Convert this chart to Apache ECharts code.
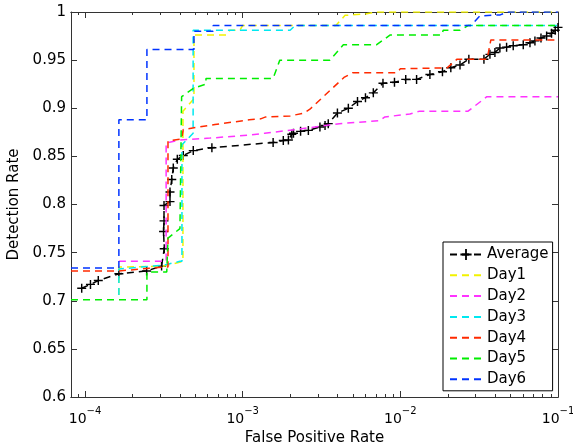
<!DOCTYPE html>
<html>
<head>
<meta charset="utf-8">
<script src="https://cdn.jsdelivr.net/npm/echarts@6/dist/echarts.min.js"></script>
<style>
  html, body { margin: 0; background: #fff; }
  #chart { width: 573px; height: 446px; }
</style>
</head>
<body>
<div id="chart"></div>
<script>
// ROC curves, x = false positive rate (log), y = detection rate
const seriesNames = ['Average', 'Day1', 'Day2', 'Day3', 'Day4', 'Day5', 'Day6'];
const seriesColors = ['#000000', '#f2f200', '#ff33ff', '#00e8f0', '#ff2a00', '#00ee00', '#0033ff'];

const xTicks = [1e-4, 1e-3, 1e-2, 1e-1];
const yTicks = [0.6, 0.65, 0.7, 0.75, 0.8, 0.85, 0.9, 0.95, 1];

const average = [
  [9.53e-5, 0.713], [1.083e-4, 0.717], [1.214e-4, 0.721], [1.64e-4, 0.728], [2.46e-4, 0.731],
  [3.06e-4, 0.736], [3.18e-4, 0.754], [3.15e-4, 0.772], [3.17e-4, 0.783], [3.17e-4, 0.799],
  [3.46e-4, 0.803], [3.46e-4, 0.813], [3.55e-4, 0.826], [3.63e-4, 0.838], [3.85e-4, 0.847],
  [4.2e-4, 0.851], [4.86e-4, 0.856], [6.38e-4, 0.859], [1.56e-3, 0.8645], [1.81e-3, 0.8665],
  [1.95e-3, 0.867], [2.05e-3, 0.873], [2.10e-3, 0.874], [2.33e-3, 0.876], [2.61e-3, 0.877],
  [3.09e-3, 0.8805], [3.33e-3, 0.882], [3.49e-3, 0.884], [3.99e-3, 0.895], [4.68e-3, 0.900],
  [5.35e-3, 0.907], [6.01e-3, 0.911], [6.74e-3, 0.916], [7.76e-3, 0.926], [9.18e-3, 0.927],
  [1.082e-2, 0.930], [1.268e-2, 0.930], [1.54e-2, 0.935], [1.85e-2, 0.938], [2.09e-2, 0.942],
  [2.39e-2, 0.945], [2.72e-2, 0.951], [3.39e-2, 0.951], [3.70e-2, 0.956], [3.98e-2, 0.958],
  [4.28e-2, 0.9625], [4.72e-2, 0.9635], [5.20e-2, 0.965], [6.02e-2, 0.966], [6.64e-2, 0.968],
  [7.14e-2, 0.970], [7.80e-2, 0.973], [8.47e-2, 0.975], [9.1e-2, 0.978], [9.6e-2, 0.981], [0.1, 0.984]
];
const day1 = [
  [1.64e-4, 0.706], [1.64e-4, 0.735], [3.17e-4, 0.736], [4.18e-4, 0.741], [4.18e-4, 0.897],
  [4.91e-4, 0.91], [4.91e-4, 0.976], [7.9e-4, 0.976], [8.3e-4, 0.981], [9.6e-4, 0.981],
  [1.0e-3, 0.986], [3.9e-3, 0.986], [4.46e-3, 0.9965], [5.97e-3, 0.998], [7.1e-3, 1.0], [0.1, 1.0]
];
const day2 = [
  [1.64e-4, 0.741], [3.27e-4, 0.741], [3.27e-4, 0.864], [4.0e-4, 0.867], [6.2e-4, 0.869],
  [1.1e-3, 0.872], [1.38e-3, 0.874], [2.2e-3, 0.878], [4.1e-3, 0.884], [7.4e-3, 0.887],
  [7.98e-3, 0.891], [1.15e-2, 0.894], [1.33e-2, 0.897], [2.69e-2, 0.897], [3.54e-2, 0.912], [0.1, 0.912]
];
const day3 = [
  [1.64e-4, 0.706], [1.64e-4, 0.733], [3.17e-4, 0.737], [4.0e-4, 0.741], [4.12e-4, 0.741],
  [4.12e-4, 0.862], [4.85e-4, 0.874], [4.85e-4, 0.981], [2.0e-3, 0.981], [2.15e-3, 0.986], [0.1, 0.986]
];
const day4 = [
  [8.15e-5, 0.731], [1.64e-4, 0.731], [3.17e-4, 0.735], [3.36e-4, 0.735], [3.36e-4, 0.866],
  [4.1e-4, 0.868], [4.2e-4, 0.878], [6.67e-4, 0.883], [1.1e-3, 0.888], [1.3e-3, 0.889],
  [1.4e-3, 0.891], [2.0e-3, 0.892], [2.45e-3, 0.895], [2.67e-3, 0.899], [4.39e-3, 0.932],
  [5.0e-3, 0.937], [9.5e-3, 0.937], [1.0e-2, 0.941], [1.98e-2, 0.942], [2.29e-2, 0.951],
  [3.55e-2, 0.951], [3.75e-2, 0.971], [0.1, 0.971]
];
const day5 = [
  [8.15e-5, 0.701], [2.47e-4, 0.701], [2.47e-4, 0.730], [3.3e-4, 0.730], [3.36e-4, 0.765],
  [4.0e-4, 0.775], [4.1e-4, 0.775], [4.1e-4, 0.912], [4.9e-4, 0.921], [5.85e-4, 0.925],
  [5.85e-4, 0.931], [1.56e-3, 0.931], [1.72e-3, 0.950], [3.58e-3, 0.950], [4.35e-3, 0.966],
  [7.08e-3, 0.966], [8.59e-3, 0.976], [1.83e-2, 0.976], [1.87e-2, 0.981], [2.39e-2, 0.981],
  [2.7e-2, 0.986], [0.1, 0.986]
];
const day6 = [
  [8.15e-5, 0.734], [1.64e-4, 0.734], [1.64e-4, 0.888], [2.47e-4, 0.888], [2.47e-4, 0.961],
  [4.91e-4, 0.961], [4.91e-4, 0.980], [6.5e-4, 0.980], [6.5e-4, 0.986], [2.8e-2, 0.986],
  [3.2e-2, 0.996], [4.3e-2, 0.997], [4.8e-2, 1.0], [0.1, 1.0]
];
const seriesData = [average, day1, day2, day3, day4, day5, day6];

const X_MIN = 8.15e-5, X_MAX = 0.1;
const FONT = '"DejaVu Sans", Verdana, sans-serif';
const AXIS_COLOR = '#333';
const PLUS = 'path://M4.2,0H5.8V4.2H10V5.8H5.8V10H4.2V5.8H0V4.2H4.2Z';

// minor ticks 2..9 x 10^k inside the range
const minorTicks = [];
for (let e = -5; e <= -2; e++) {
  for (let k = 2; k <= 9; k++) {
    const v = k * Math.pow(10, e);
    if (v >= X_MIN && v <= X_MAX) minorTicks.push(v);
  }
}

function xAxisDef(position, ticks, len, labels) {
  return {
    type: 'log', logBase: 10, min: X_MIN, max: X_MAX, position,
    axisLine: { show: true, onZero: false, lineStyle: { color: AXIS_COLOR, width: 1 } },
    axisTick: { show: true, inside: true, length: len, customValues: ticks,
                lineStyle: { color: AXIS_COLOR, width: 1 } },
    axisLabel: labels ? {
      show: true, customValues: ticks, margin: 9,
      formatter: v => '{b|10}{s|' + String(Math.round(Math.log10(v))).replace('-', '\u2212') + '}',
      rich: {
        b: { fontSize: 14, fontFamily: FONT, color: '#000', lineHeight: 20, verticalAlign: 'bottom' },
        s: { fontSize: 10, fontFamily: FONT, color: '#000', verticalAlign: 'top' }
      }
    } : { show: false },
    splitLine: { show: false },
    minorTick: { show: false }
  };
}

const xAxes = [
  Object.assign(xAxisDef('bottom', xTicks, 6, true), {
    name: 'False Positive Rate', nameLocation: 'middle', nameGap: 32,
    nameTextStyle: { fontSize: 15, fontFamily: FONT, color: '#000' }
  }),
  xAxisDef('bottom', minorTicks, 3, false),
  xAxisDef('top', xTicks, 6, false),
  xAxisDef('top', minorTicks, 3, false)
];

function yAxisDef(position, labels) {
  return {
    type: 'value', min: 0.6, max: 1, interval: 0.05, position,
    axisLine: { show: true, onZero: false, lineStyle: { color: AXIS_COLOR, width: 1 } },
    axisTick: { show: true, inside: true, length: 6, lineStyle: { color: AXIS_COLOR, width: 1 } },
    axisLabel: labels ? {
      show: true, margin: 5, fontSize: 15, fontFamily: FONT, color: '#000',
      formatter: v => String(+v.toFixed(2))
    } : { show: false },
    splitLine: { show: false }
  };
}

const yAxes = [
  Object.assign(yAxisDef('left', true), {
    name: 'Detection Rate', nameLocation: 'middle', nameGap: 41,
    nameTextStyle: { fontSize: 15, fontFamily: FONT, color: '#000' }
  }),
  yAxisDef('right', false)
];

const series = seriesNames.map((name, i) => ({
  name,
  type: 'line',
  xAxisIndex: 0,
  yAxisIndex: 0,
  data: seriesData[i],
  symbol: i === 0 ? PLUS : 'none',
  symbolSize: 9,
  showSymbol: i === 0,
  itemStyle: { color: seriesColors[i] },
  lineStyle: { color: seriesColors[i], width: 1.5, type: [7, 5] },
  z: 2 + i,
  animation: false
}));

// legend: only the Average entry shows its marker
const legendData = seriesNames.map((name, i) =>
  i === 0 ? { name, itemStyle: { color: '#000' } } : { name, itemStyle: { opacity: 0 } });

const chart = echarts.init(document.getElementById('chart'), null, { renderer: 'canvas' });
chart.setOption({
  animation: false,
  backgroundColor: '#fff',
  grid: { left: 71, top: 12, right: 15, bottom: 49, containLabel: false, outerBoundsMode: 'none' },
  xAxis: xAxes,
  yAxis: yAxes,
  legend: {
    data: legendData,
    orient: 'vertical',
    left: 443, top: 242,
    itemWidth: 32, itemHeight: 14, itemGap: 5.8,
    padding: [5, 4, 4, 6],
    borderColor: '#000', borderWidth: 1, backgroundColor: '#fff',
    textStyle: { fontSize: 15, lineHeight: 15, fontFamily: FONT, color: '#000' }
  },
  series
});
</script>
</body>
</html>
